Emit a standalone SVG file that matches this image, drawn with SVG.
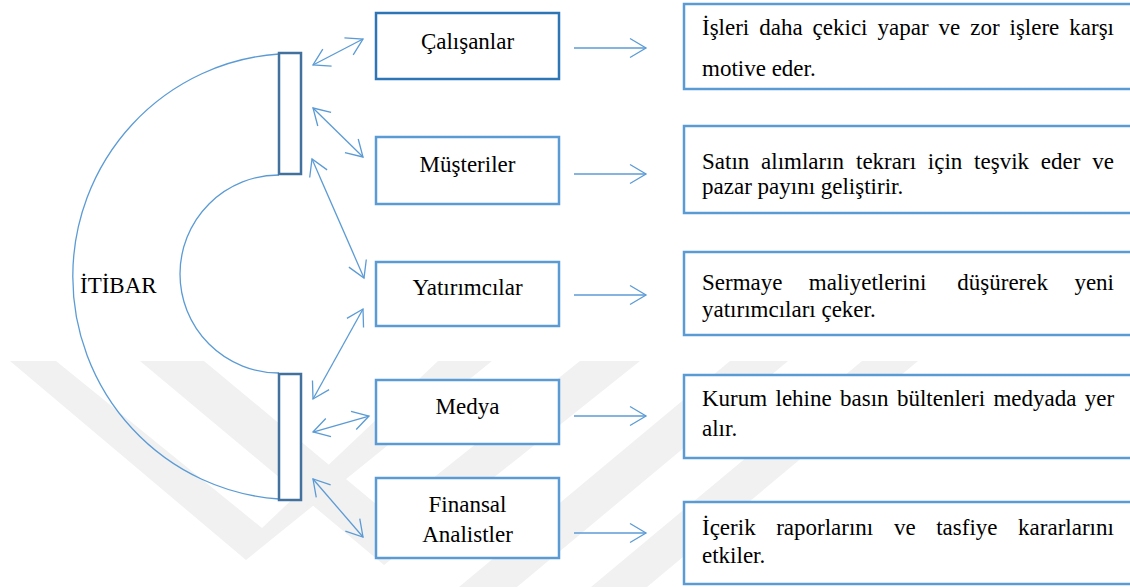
<svg xmlns="http://www.w3.org/2000/svg" width="1130" height="587" viewBox="0 0 1130 587">
<defs>
<style>
.wm{fill:#f1f1f1;stroke:none}
.bar{fill:#ffffff;stroke:#41719c;stroke-width:2.5}
.mid{fill:#ffffff;stroke:#5b9bd5;stroke-width:2.5}
.mid1{fill:#ffffff;stroke:#2e75b6;stroke-width:2.5}
.rbox{fill:#ffffff;stroke:#5b9bd5;stroke-width:2.5}
.arc{fill:none;stroke:#5b9bd5;stroke-width:1.3}
.con{fill:none;stroke:#5b9bd5;stroke-width:1.3}
.t{font-family:'Liberation Serif',serif;font-size:23px;fill:#000000}
.c{text-anchor:middle}
</style>
<marker id="ah" viewBox="-19 -12 21 24" refX="0" refY="0" markerWidth="21" markerHeight="24" markerUnits="userSpaceOnUse" orient="auto-start-reverse">
<path d="M-16,-9.5 L0,0 L-16,9.5" fill="none" stroke="#5b9bd5" stroke-width="1.3"/>
</marker>
</defs>
<rect width="1130" height="587" fill="#ffffff"/>
<g id="watermark">
<polygon class="wm" points="10,361 56,361 262,528 438,361 492,361 246,560"/>
<polygon class="wm" points="140,361 204,361 388,514 580,361 640,361 384,565"/>
<polygon class="wm" points="730,361 788,361 517,587 459,587"/>
<polygon class="wm" points="862,361 918,361 647,587 591,587"/>
</g>
<g id="arcs">
<path class="arc" d="M279,54 A221,223 0 0 0 279,499"/>
<path class="arc" d="M279,175 A99,99 0 0 0 279,373"/>
</g>
<g id="itibar"><text class="t" x="80" y="293">İTİBAR</text></g>
<g id="bar-top"><rect class="bar" x="279" y="53" width="22" height="121"/></g>
<g id="bar-bottom"><rect class="bar" x="279" y="374" width="22" height="126"/></g>
<g id="connectors">
<line class="con" x1="313" y1="65" x2="363" y2="39" marker-start="url(#ah)" marker-end="url(#ah)"/>
<line class="con" x1="313" y1="108" x2="363" y2="157" marker-start="url(#ah)" marker-end="url(#ah)"/>
<line class="con" x1="312" y1="159" x2="364" y2="278" marker-start="url(#ah)" marker-end="url(#ah)"/>
<line class="con" x1="363" y1="309" x2="313" y2="399" marker-start="url(#ah)" marker-end="url(#ah)"/>
<line class="con" x1="313" y1="432" x2="369" y2="416" marker-start="url(#ah)" marker-end="url(#ah)"/>
<line class="con" x1="313" y1="479" x2="363" y2="537" marker-start="url(#ah)" marker-end="url(#ah)"/>
<line class="con" x1="574" y1="48" x2="646" y2="48" marker-end="url(#ah)"/>
<line class="con" x1="574" y1="174" x2="646" y2="174" marker-end="url(#ah)"/>
<line class="con" x1="574" y1="295" x2="646" y2="295" marker-end="url(#ah)"/>
<line class="con" x1="574" y1="416" x2="646" y2="416" marker-end="url(#ah)"/>
<line class="con" x1="574" y1="533" x2="646" y2="533" marker-end="url(#ah)"/>
</g>
<g id="calisanlar"><rect class="mid1" x="376" y="13" width="183" height="66"/><text class="t c" x="467.5" y="49">Çalışanlar</text></g>
<g id="musteriler"><rect class="mid" x="376" y="137" width="183" height="67"/><text class="t c" x="467.5" y="172">Müşteriler</text></g>
<g id="yatirimcilar"><rect class="mid" x="376" y="262" width="183" height="64"/><text class="t c" x="467.5" y="295">Yatırımcılar</text></g>
<g id="medya"><rect class="mid" x="376" y="380" width="183" height="64"/><text class="t c" x="467.5" y="414">Medya</text></g>
<g id="finansal"><rect class="mid" x="376" y="478" width="183" height="80"/><text class="t c" x="467.5" y="512">Finansal</text><text class="t c" x="467.5" y="542">Analistler</text></g>
<g id="r1"><rect class="rbox" x="684" y="4" width="460" height="85"/>
<text class="t" y="35"><tspan x="702">İşleri</tspan><tspan x="759.3">daha</tspan><tspan x="812.6">çekici</tspan><tspan x="877.5">yapar</tspan><tspan x="938.5">ve</tspan><tspan x="970.2">zor</tspan><tspan x="1009.5">işlere</tspan><tspan x="1069.3">karşı</tspan></text>
<text class="t" x="702" y="76">motive eder.</text></g>
<g id="r2"><rect class="rbox" x="684" y="126" width="460" height="87"/>
<text class="t" y="169"><tspan x="702">Satın</tspan><tspan x="761.1">alımların</tspan><tspan x="856">tekrarı</tspan><tspan x="927.8">için</tspan><tspan x="974.1">teşvik</tspan><tspan x="1040.8">eder</tspan><tspan x="1092.3">ve</tspan></text>
<text class="t" x="702" y="194">pazar payını geliştirir.</text></g>
<g id="r3"><rect class="rbox" x="684" y="252" width="460" height="83"/>
<text class="t" y="290"><tspan x="702">Sermaye</tspan><tspan x="808.8">maliyetlerini</tspan><tspan x="957.3">düşürerek</tspan><tspan x="1074.4">yeni</tspan></text>
<text class="t" x="702" y="317">yatırımcıları çeker.</text></g>
<g id="r4"><rect class="rbox" x="684" y="375" width="460" height="83"/>
<text class="t" y="406"><tspan x="702">Kurum</tspan><tspan x="775.5">lehine</tspan><tspan x="840">basın</tspan><tspan x="896.9">bültenleri</tspan><tspan x="993.4">medyada</tspan><tspan x="1084.7">yer</tspan></text>
<text class="t" x="702" y="436">alır.</text></g>
<g id="r5"><rect class="rbox" x="684" y="502" width="460" height="82"/>
<text class="t" y="535"><tspan x="702">İçerik</tspan><tspan x="776.2">raporlarını</tspan><tspan x="893.9">ve</tspan><tspan x="936.2">tasfiye</tspan><tspan x="1018.1">kararlarını</tspan></text>
<text class="t" x="702" y="563">etkiler.</text></g>
</svg>
